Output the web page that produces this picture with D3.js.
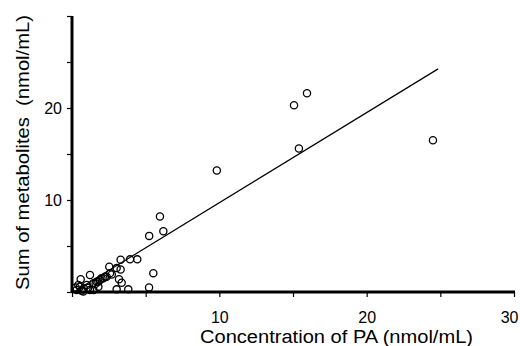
<!DOCTYPE html>
<html>
<head>
<meta charset="utf-8">
<script src="https://cdn.jsdelivr.net/npm/d3@7"></script>
<style>
  body { margin: 0; background: #fff; }
  svg { display: block; font-family: "Liberation Sans", Arial, sans-serif; }
</style>
</head>
<body>
<figure id="scatter" style="margin:0"></figure>
<script>
// data
const concPA = [24.5, 15.95, 15.07, 15.4, 9.83, 5.97, 6.2, 5.24, 5.52, 5.23,
  4.43, 3.94, 3.3, 3.03, 3.3, 2.53, 3.19, 3.37, 3.03, 3.82, 2.58, 2.35, 2.13,
  1.9, 1.67, 1.45, 1.22, 0.59, 0.54, 0.32, 0.43, 1.0, 1.22, 0.77, 1.45, 1.79,
  1.79, 2.0, 2.24, 0.8, 1.1, 0.65, 0.25, 1.6, 2.7];
const sumMetabolites = [16.5, 21.6, 20.3, 15.6, 13.2, 8.2, 6.6, 6.1, 2.05, 0.5,
  3.55, 3.55, 3.5, 2.6, 2.45, 2.75, 1.38, 1.0, 0.29, 0.29, 2.03, 1.66, 1.49,
  1.3, 1.12, 0.95, 1.85, 1.38, 0.58, 0.22, 0.76, 0.76, 0.22, 0.05, 0.22, 0.58,
  1.12, 1.49, 1.66, 0.4, 0.45, 0.15, 0.5, 0.9, 1.9];
const fitX = [0.3, 24.85];
const fitSlope = 0.98, fitIntercept = -0.1;
const xTicks = [0, 5, 10, 15, 20, 25, 30];
const yTicks = [0, 5, 10, 15, 20, 25, 30];
const xLabels = [10, 20, 30];
const yLabels = [10, 20];

const width = 520, height = 346;
const svg = d3.select("figure#scatter")
  .append("svg")
  .attr("width", width)
  .attr("height", height);

const x = d3.scaleLinear().domain([0, 30]).range([72, 514]);
const y = d3.scaleLinear().domain([0, 30]).range([292, 16]);

// X axis
const xAxis = svg.append("g")
  .attr("transform", "translate(0,292)")
  .call(d3.axisBottom(x).tickValues(xTicks).tickSize(5).tickSizeOuter(0)
    .tickFormat(d => xLabels.includes(d) ? d : ""));
xAxis.select(".domain").attr("stroke-width", 3).attr("d", "M72,0H515");
xAxis.selectAll(".tick line").attr("stroke-width", 1.2);
xAxis.selectAll("text")
  .attr("font-size", 16)
  .attr("y", 31)
  .attr("dy", null)
  .attr("fill", "#000");
// last label sits against the right edge
xAxis.selectAll(".tick text")
  .filter(d => d === 30)
  .attr("text-anchor", "end")
  .attr("x", 4);

// Y axis
const yAxis = svg.append("g")
  .attr("transform", "translate(72,0)")
  .call(d3.axisLeft(y).tickValues(yTicks).tickSize(5).tickSizeOuter(0)
    .tickFormat(d => yLabels.includes(d) ? d : ""));
yAxis.select(".domain").attr("stroke-width", 3).attr("d", "M0,16V293");
yAxis.selectAll(".tick line").attr("stroke-width", 1.2);
yAxis.selectAll("text")
  .attr("font-size", 16)
  .attr("x", -10)
  .attr("fill", "#000");

// regression line
svg.append("line")
  .attr("x1", x(fitX[0]))
  .attr("y1", y(fitSlope * fitX[0] + fitIntercept))
  .attr("x2", x(fitX[1]))
  .attr("y2", y(fitSlope * fitX[1] + fitIntercept))
  .attr("stroke", "#000")
  .attr("stroke-width", 1.2);

// points
svg.selectAll("circle.pt")
  .data(concPA)
  .enter()
  .append("circle")
  .attr("class", "pt")
  .attr("cx", d => x(d))
  .attr("cy", (d, i) => y(sumMetabolites[i]))
  .attr("r", 3.6)
  .attr("fill", "none")
  .attr("stroke", "#000")
  .attr("stroke-width", 1.3);

// axis titles
svg.append("text")
  .attr("x", 200)
  .attr("y", 343)
  .attr("font-size", 18)
  .attr("textLength", 273)
  .attr("lengthAdjust", "spacingAndGlyphs")
  .text("Concentration of PA (nmol/mL)");

svg.append("text")
  .attr("transform", "translate(29,290)rotate(-90)")
  .attr("font-size", 18)
  .attr("textLength", 275)
  .attr("lengthAdjust", "spacingAndGlyphs")
  .style("white-space", "pre")
  .text("Sum of metabolites  (nmol/mL)");
</script>
</body>
</html>
